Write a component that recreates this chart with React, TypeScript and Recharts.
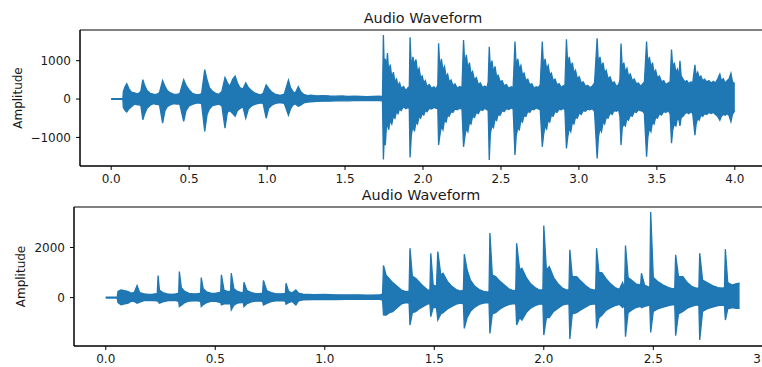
import React from "react";
import { AreaChart, Area, XAxis, YAxis, ReferenceArea } from "recharts";

// first clip, 4.0 s (envelope: time, upper, lower)
const topTime = [
  0, 0.075, 0.078, 0.09, 0.1, 0.115, 0.13, 0.15, 0.17, 0.19, 0.203, 0.215, 0.23, 0.25, 0.27, 0.29, 0.31,
  0.33, 0.345, 0.36, 0.38, 0.4, 0.42, 0.44, 0.465, 0.48, 0.5, 0.52, 0.54, 0.56, 0.58, 0.6, 0.615, 0.63,
  0.65, 0.67, 0.69, 0.71, 0.73, 0.745, 0.76, 0.78, 0.795, 0.81, 0.825, 0.845, 0.863, 0.88, 0.9, 0.92,
  0.94, 0.96, 0.975, 0.994, 1.01, 1.03, 1.05, 1.07, 1.09, 1.11, 1.137, 1.15, 1.165, 1.18, 1.2, 1.215,
  1.235, 1.26, 1.28, 1.32, 1.36, 1.4, 1.44, 1.48, 1.52, 1.56, 1.6, 1.64, 1.68, 1.72, 1.74,
  1.746, 1.752, 1.758, 1.765, 1.772, 1.78, 1.79, 1.8, 1.81, 1.82, 1.83, 1.84, 1.85, 1.86, 1.875, 1.89, 1.905, 1.912,
  1.917, 1.925, 1.935, 1.945, 1.955, 1.965, 1.975, 1.985, 1.995, 2.005, 2.015, 2.025, 2.04, 2.055, 2.07, 2.085, 2.095,
  2.1, 2.108, 2.118, 2.128, 2.138, 2.148, 2.158, 2.168, 2.18, 2.192, 2.205, 2.22, 2.235, 2.25,
  2.26, 2.268, 2.278, 2.288, 2.298, 2.308, 2.318, 2.33, 2.342, 2.355, 2.368, 2.382, 2.396, 2.41, 2.418,
  2.425, 2.432, 2.442, 2.452, 2.462, 2.472, 2.482, 2.495, 2.508, 2.52, 2.535, 2.55, 2.565, 2.578,
  2.59, 2.598, 2.608, 2.618, 2.628, 2.638, 2.648, 2.66, 2.672, 2.685, 2.698, 2.712, 2.726, 2.74, 2.752,
  2.765, 2.773, 2.783, 2.793, 2.803, 2.813, 2.823, 2.835, 2.847, 2.86, 2.873, 2.887, 2.9, 2.91,
  2.92, 2.928, 2.938, 2.948, 2.958, 2.968, 2.978, 2.99, 3.002, 3.015, 3.028, 3.042, 3.056, 3.07, 3.085, 3.1,
  3.117, 3.125, 3.135, 3.145, 3.155, 3.165, 3.175, 3.187, 3.2, 3.213, 3.226, 3.24, 3.255, 3.263,
  3.27, 3.278, 3.288, 3.298, 3.308, 3.318, 3.33, 3.342, 3.355, 3.368, 3.382, 3.396, 3.41, 3.42,
  3.434, 3.442, 3.452, 3.462, 3.472, 3.482, 3.492, 3.504, 3.516, 3.53, 3.544, 3.558, 3.572, 3.585,
  3.594, 3.602, 3.612, 3.622, 3.632, 3.642, 3.648, 3.656, 3.668, 3.68, 3.692, 3.705, 3.718, 3.73,
  3.744, 3.752, 3.762, 3.772, 3.782, 3.794, 3.806, 3.82, 3.834, 3.848, 3.862, 3.876, 3.89,
  3.904, 3.914, 3.926, 3.938, 3.95, 3.962, 3.975, 3.985, 4.0,
];
const topHigh = [
  10, 10, 200, 330, 400, 260, 180, 160, 130, 200, 505, 350, 220, 150, 130, 120, 170,
  480, 330, 220, 160, 130, 120, 140, 505, 360, 240, 150, 120, 110, 140, 765, 500, 300,
  200, 150, 120, 200, 560, 430, 330, 520, 600, 420, 300, 260, 420, 300, 220, 160,
  130, 110, 150, 370, 280, 180, 130, 110, 100, 130, 495, 300, 200, 150, 320, 200,
  120, 90, 100, 85, 90, 80, 75, 80, 70, 75, 70, 65, 70, 75, 60,
  1670, 700, 1050, 800, 1200, 700, 900, 550, 700, 450, 520, 350, 420, 280, 330, 220, 300, 250,
  1610, 800, 1100, 900, 1030, 700, 800, 550, 600, 420, 480, 330, 380, 280, 320, 260, 380,
  1455, 800, 1050, 750, 850, 580, 650, 450, 500, 350, 400, 280, 330, 300,
  1540, 900, 1150, 800, 950, 650, 720, 500, 560, 380, 420, 300, 340, 300, 450,
  1365, 800, 1000, 700, 850, 580, 620, 450, 480, 350, 380, 280, 320, 290,
  1500, 850, 1050, 780, 880, 620, 680, 480, 520, 370, 400, 280, 320, 300, 380,
  1500, 850, 1050, 780, 880, 620, 680, 480, 520, 370, 400, 300, 350, 320,
  1560, 900, 1100, 820, 950, 680, 750, 530, 580, 420, 450, 330, 360, 300, 330, 420,
  1585, 900, 1100, 820, 950, 680, 750, 530, 580, 420, 450, 330, 380, 500,
  1450, 800, 950, 700, 800, 600, 650, 480, 520, 400, 420, 330, 400, 450,
  1500, 900, 1100, 820, 950, 680, 750, 550, 600, 450, 480, 380, 420, 450,
  1290, 800, 950, 700, 780, 600, 1000, 600, 520, 450, 480, 400, 450, 420,
  890, 600, 700, 550, 600, 480, 520, 450, 480, 420, 460, 420, 520,
  650, 480, 530, 420, 480, 520, 670, 450, 400,
];
const topLow = [
  -10, -10, -220, -300, -340, -250, -200, -130, -150, -160, -540, -380, -240, -160, -120, -140, -150,
  -625, -300, -200, -150, -120, -130, -130, -580, -300, -180, -140, -110, -100, -120, -845, -400, -260,
  -170, -150, -130, -180, -760, -350, -300, -380, -450, -300, -250, -200, -500, -260, -180, -140,
  -120, -100, -120, -500, -240, -160, -120, -100, -100, -110, -420, -260, -160, -120, -190, -160,
  -100, -80, -70, -60, -55, -55, -50, -45, -45, -40, -40, -40, -40, -40, -50,
  -1575, -900, -1200, -750, -650, -800, -550, -650, -450, -500, -330, -380, -250, -300, -200, -250, -220, -250,
  -1520, -950, -700, -840, -600, -650, -450, -500, -380, -420, -300, -330, -240, -260, -220, -240, -260,
  -1200, -950, -700, -800, -550, -600, -420, -450, -330, -350, -260, -280, -240, -260,
  -1245, -1000, -750, -850, -600, -650, -450, -480, -350, -380, -270, -300, -240, -280, -300,
  -1590, -900, -700, -750, -520, -560, -400, -420, -300, -330, -250, -270, -230, -260,
  -1460, -950, -750, -800, -550, -600, -430, -450, -320, -350, -260, -280, -230, -260, -280,
  -1245, -950, -700, -780, -550, -600, -420, -450, -320, -350, -260, -280, -240, -280,
  -1290, -1000, -750, -850, -600, -650, -480, -500, -360, -400, -300, -320, -260, -280, -250, -320,
  -1550, -1000, -750, -850, -600, -650, -480, -500, -360, -400, -300, -320, -280, -450,
  -1200, -750, -650, -700, -500, -550, -420, -450, -330, -350, -280, -300, -320, -380,
  -1505, -1000, -750, -850, -600, -650, -480, -500, -380, -420, -320, -350, -300, -380,
  -1150, -800, -650, -700, -500, -550, -700, -480, -450, -380, -350, -380, -330, -380,
  -940, -650, -500, -550, -420, -450, -380, -400, -350, -380, -350, -400, -450,
  -550, -450, -400, -420, -380, -420, -590, -400, -300,
];

// second clip, 2.9 s
const botTime = [
  0, 0.052, 0.056, 0.07, 0.085, 0.1, 0.115, 0.13, 0.143, 0.155, 0.175, 0.195, 0.215, 0.235, 0.239, 0.245,
  0.26, 0.28, 0.3, 0.32, 0.333, 0.336, 0.345, 0.36, 0.38, 0.4, 0.42, 0.433, 0.436, 0.445, 0.46, 0.48,
  0.5, 0.515, 0.525, 0.528, 0.54, 0.555, 0.57, 0.573, 0.585, 0.6, 0.62, 0.628, 0.631, 0.645, 0.665,
  0.685, 0.705, 0.716, 0.72, 0.735, 0.755, 0.775, 0.8, 0.82, 0.823, 0.835, 0.85, 0.868, 0.88, 0.9,
  0.95, 1.0, 1.05, 1.1, 1.15, 1.2, 1.25, 1.264, 1.268, 1.28, 1.295, 1.31, 1.33, 1.35, 1.37, 1.385,
  1.389, 1.4, 1.415, 1.43, 1.45, 1.47, 1.48, 1.484, 1.495, 1.51, 1.516, 1.53, 1.54, 1.56, 1.58, 1.6,
  1.62, 1.633, 1.637, 1.65, 1.665, 1.685, 1.705, 1.725, 1.745, 1.75, 1.754, 1.765, 1.78, 1.8, 1.82,
  1.84, 1.86, 1.872, 1.876, 1.89, 1.9, 1.92, 1.94, 1.96, 1.98, 1.996, 2.0, 2.012, 2.025, 2.045, 2.065,
  2.085, 2.105, 2.115, 2.119, 2.13, 2.15, 2.17, 2.19, 2.21, 2.23, 2.237, 2.241, 2.252, 2.265, 2.285,
  2.305, 2.325, 2.345, 2.36, 2.369, 2.373, 2.385, 2.4, 2.42, 2.442, 2.446, 2.46, 2.484, 2.488, 2.5,
  2.52, 2.545, 2.57, 2.59, 2.598, 2.602, 2.615, 2.635, 2.655, 2.675, 2.695, 2.708, 2.712, 2.725, 2.745,
  2.77, 2.795, 2.815, 2.825, 2.829, 2.84, 2.86, 2.88, 2.894,
];
const botHigh = [
  15, 15, 250, 310, 280, 250, 180, 200, 480, 200, 150, 130, 140, 160, 880, 300,
  200, 150, 130, 150, 180, 1040, 400, 250, 170, 150, 160, 180, 800, 350, 230, 180,
  170, 200, 220, 907, 300, 250, 250, 973, 350, 250, 200, 220, 613, 280, 200,
  160, 170, 180, 690, 280, 200, 160, 150, 170, 573, 250, 180, 307, 180, 140,
  120, 125, 110, 105, 110, 100, 105, 150, 1280, 900, 750, 600, 450, 300, 240, 260,
  1973, 850, 773, 640, 450, 300, 300, 1773, 500, 450, 1840, 900, 973, 650, 450, 320,
  260, 300, 1733, 1100, 700, 450, 320, 250, 220, 250, 2573, 900, 840, 650, 500,
  350, 280, 300, 2173, 1100, 1173, 800, 550, 400, 300, 320, 2880, 1100, 1240, 800, 550,
  380, 300, 320, 1907, 840, 840, 650, 480, 350, 300, 320, 1973, 1000, 1000, 750,
  550, 400, 330, 600, 350, 2080, 800, 700, 550, 500, 973, 500, 400, 3413, 800,
  640, 500, 400, 350, 380, 1707, 840, 840, 600, 450, 380, 380, 1773, 700, 600,
  480, 400, 380, 400, 1933, 600, 500, 560, 573,
];
const botLow = [
  -15, -15, -200, -290, -250, -230, -150, -150, -227, -180, -120, -110, -120, -130, -160, -220,
  -170, -130, -110, -120, -150, -360, -300, -200, -140, -130, -130, -150, -360, -280, -200, -150,
  -140, -180, -200, -293, -250, -250, -250, -493, -300, -220, -200, -200, -360, -240, -170,
  -140, -140, -150, -293, -230, -160, -130, -120, -140, -267, -200, -150, -293, -130, -90,
  -80, -75, -75, -70, -70, -65, -70, -100, -693, -700, -600, -560, -400, -250, -200, -220,
  -1093, -600, -560, -450, -350, -250, -250, -760, -400, -400, -893, -650, -600, -450, -350, -260,
  -220, -250, -1227, -800, -550, -380, -270, -220, -200, -220, -1427, -650, -600, -450, -350,
  -280, -240, -250, -1093, -800, -900, -600, -420, -320, -260, -260, -1493, -800, -800, -550, -420,
  -300, -250, -260, -1653, -650, -600, -480, -380, -280, -250, -260, -1227, -800, -700, -500,
  -400, -320, -270, -400, -300, -1560, -600, -500, -400, -350, -400, -350, -300, -1387, -550,
  -450, -380, -320, -280, -300, -1520, -650, -550, -420, -350, -300, -300, -1693, -550, -450,
  -380, -320, -300, -320, -893, -450, -400, -430, -427,
];

const topTicksX = [0, 0.5, 1, 1.5, 2, 2.5, 3, 3.5, 4];
const topTicksY = [-1000, 0, 1000];
const botTicksX = [0, 0.5, 1, 1.5, 2, 2.5, 3];
const botTicksY = [0, 2000];

const BLUE = "#1f77b4";
const FONT = "DejaVu Sans";

const topData = topTime.map((t, i) => ({ t, range: [topLow[i], topHigh[i]] }));
const botData = botTime.map((t, i) => ({ t, range: [botLow[i], botHigh[i]] }));

const fmtX = (v: number) => v.toFixed(1);
const fmtY = (v: number) => String(v).replace("-", "\u2212");

const tickStyle = { fontSize: 12, fill: "#1a1a1a", fontFamily: FONT };

function Waveform({ data, width, height, margin, yWidth, xHeight, xDomain, yDomain, xTicks, yTicks, labelX }: any) {
  return (
    <AreaChart width={width} height={height} data={data} margin={margin}>
      <XAxis
        dataKey="t"
        type="number"
        domain={xDomain}
        ticks={xTicks}
        tickFormatter={fmtX}
        allowDataOverflow
        height={xHeight}
        tickSize={4}
        tickMargin={4}
        tick={tickStyle}
        stroke="#000"
        interval={0}
      />
      <YAxis
        type="number"
        domain={yDomain}
        ticks={yTicks}
        tickFormatter={fmtY}
        allowDataOverflow
        width={yWidth}
        tickSize={4}
        tickMargin={5}
        tick={tickStyle}
        stroke="#000"
        interval={0}
        label={{
          value: "Amplitude",
          angle: -90,
          position: "insideLeft",
          offset: labelX,
          style: { textAnchor: "middle", fontSize: 12, fill: "#1a1a1a", fontFamily: FONT },
        }}
      />
      <Area
        type="linear"
        dataKey="range"
        stroke={BLUE}
        strokeWidth={1.3}
        fill={BLUE}
        fillOpacity={1}
        dot={false}
        activeDot={false}
        isAnimationActive={false}
      />
      {/* frame (gives the top spine; the right one sits past the window edge) */}
      <ReferenceArea
        x1={xDomain[0]}
        x2={xDomain[1]}
        y1={yDomain[0]}
        y2={yDomain[1]}
        fill="none"
        fillOpacity={0}
        stroke="#000"
        strokeWidth={1}
        ifOverflow="visible"
      />
    </AreaChart>
  );
}

const titleStyle: React.CSSProperties = {
  position: "absolute",
  width: 300,
  textAlign: "center",
  fontFamily: FONT,
  fontSize: 14.4,
  lineHeight: "20px",
  color: "#1a1a1a",
};

export default function App() {
  return (
    <div style={{ position: "absolute", left: 0, top: 0, width: 762, height: 367, overflow: "hidden", background: "#fff" }}>
      <div style={{ position: "absolute", left: 0, top: 0 }}>
        <Waveform
          data={topData}
          width={780}
          height={195}
          margin={{ top: 30, right: 14, bottom: 0, left: 0 }}
          yWidth={80}
          xHeight={29}
          xDomain={[-0.2, 4.2]}
          yDomain={[-1745, 1800]}
          xTicks={topTicksX}
          yTicks={topTicksY}
          labelX={18}
        />
      </div>
      <div style={{ position: "absolute", left: 0, top: 180 }}>
        <Waveform
          data={botData}
          width={780}
          height={187}
          margin={{ top: 27, right: 8, bottom: 0, left: 0 }}
          yWidth={74}
          xHeight={21}
          xDomain={[-0.145, 3.042]}
          yDomain={[-1930, 3615]}
          xTicks={botTicksX}
          yTicks={botTicksY}
          labelX={21}
        />
      </div>
      <div style={{ ...titleStyle, left: 273, top: 8 }}>Audio Waveform</div>
      <div style={{ ...titleStyle, left: 271, top: 185 }}>Audio Waveform</div>
    </div>
  );
}
